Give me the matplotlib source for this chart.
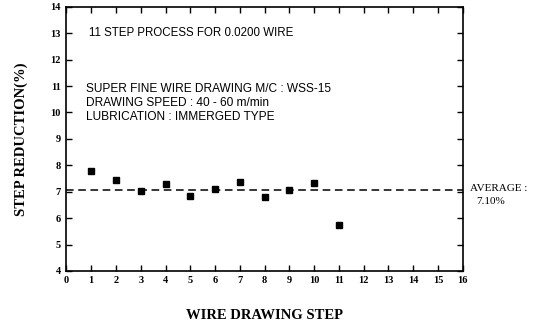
import matplotlib
matplotlib.use("Agg")
import matplotlib.pyplot as plt

# data
steps = [1, 2, 3, 4, 5, 6, 7, 8, 9, 10, 11]
reduction = [7.77, 7.43, 7.04, 7.29, 6.82, 7.09, 7.36, 6.79, 7.05, 7.33, 5.75]
average = 7.05
x_ticks = list(range(0, 17))
y_ticks = list(range(4, 15))

plt.rcParams['font.family'] = ['Liberation Serif', 'DejaVu Serif']
note_font = ['Liberation Sans', 'DejaVu Sans']

fig = plt.figure(figsize=(5.4, 3.26), dpi=100)
ax = fig.add_axes([0.123, 0.169, 0.734, 0.81])

ax.plot(steps, reduction, 's', color='black', markersize=4.5)
ax.axhline(average, color='black', linestyle=(0, (5, 3)), linewidth=1.1)

ax.set_xlim(0, 16)
ax.set_ylim(4, 14)
ax.set_xticks(x_ticks)
ax.set_yticks(y_ticks)
ax.tick_params(direction='in', length=4, width=1, top=True, right=True,
               labelsize=7.5, pad=4)
for lab in ax.get_xticklabels() + ax.get_yticklabels():
    lab.set_fontweight('bold')
for sp in ax.spines.values():
    sp.set_linewidth(1.2)

ax.set_xlabel('WIRE DRAWING STEP', fontsize=10.5, fontweight='bold', labelpad=17)
ax.set_ylabel('STEP REDUCTION(%)', fontsize=10.5, fontweight='bold', labelpad=16)

# notes inside the plot
ax.text(0.9, 13.0, '11 STEP PROCESS FOR 0.0200 WIRE', fontsize=8.3,
        va='center', family=note_font)
ax.text(0.8, 10.87, 'SUPER FINE WIRE DRAWING M/C : WSS-15', fontsize=8.6,
        va='center', family=note_font)
ax.text(0.8, 10.35, 'DRAWING SPEED : 40 - 60 m/min', fontsize=8.6,
        va='center', family=note_font)
ax.text(0.8, 9.83, 'LUBRICATION : IMMERGED TYPE', fontsize=8.6,
        va='center', family=note_font)

ax.text(16.3, 7.12, 'AVERAGE :', fontsize=8, va='center', clip_on=False)
ax.text(16.55, 6.62, '7.10%', fontsize=8, va='center', clip_on=False)

fig.savefig('out.png', dpi=100)
